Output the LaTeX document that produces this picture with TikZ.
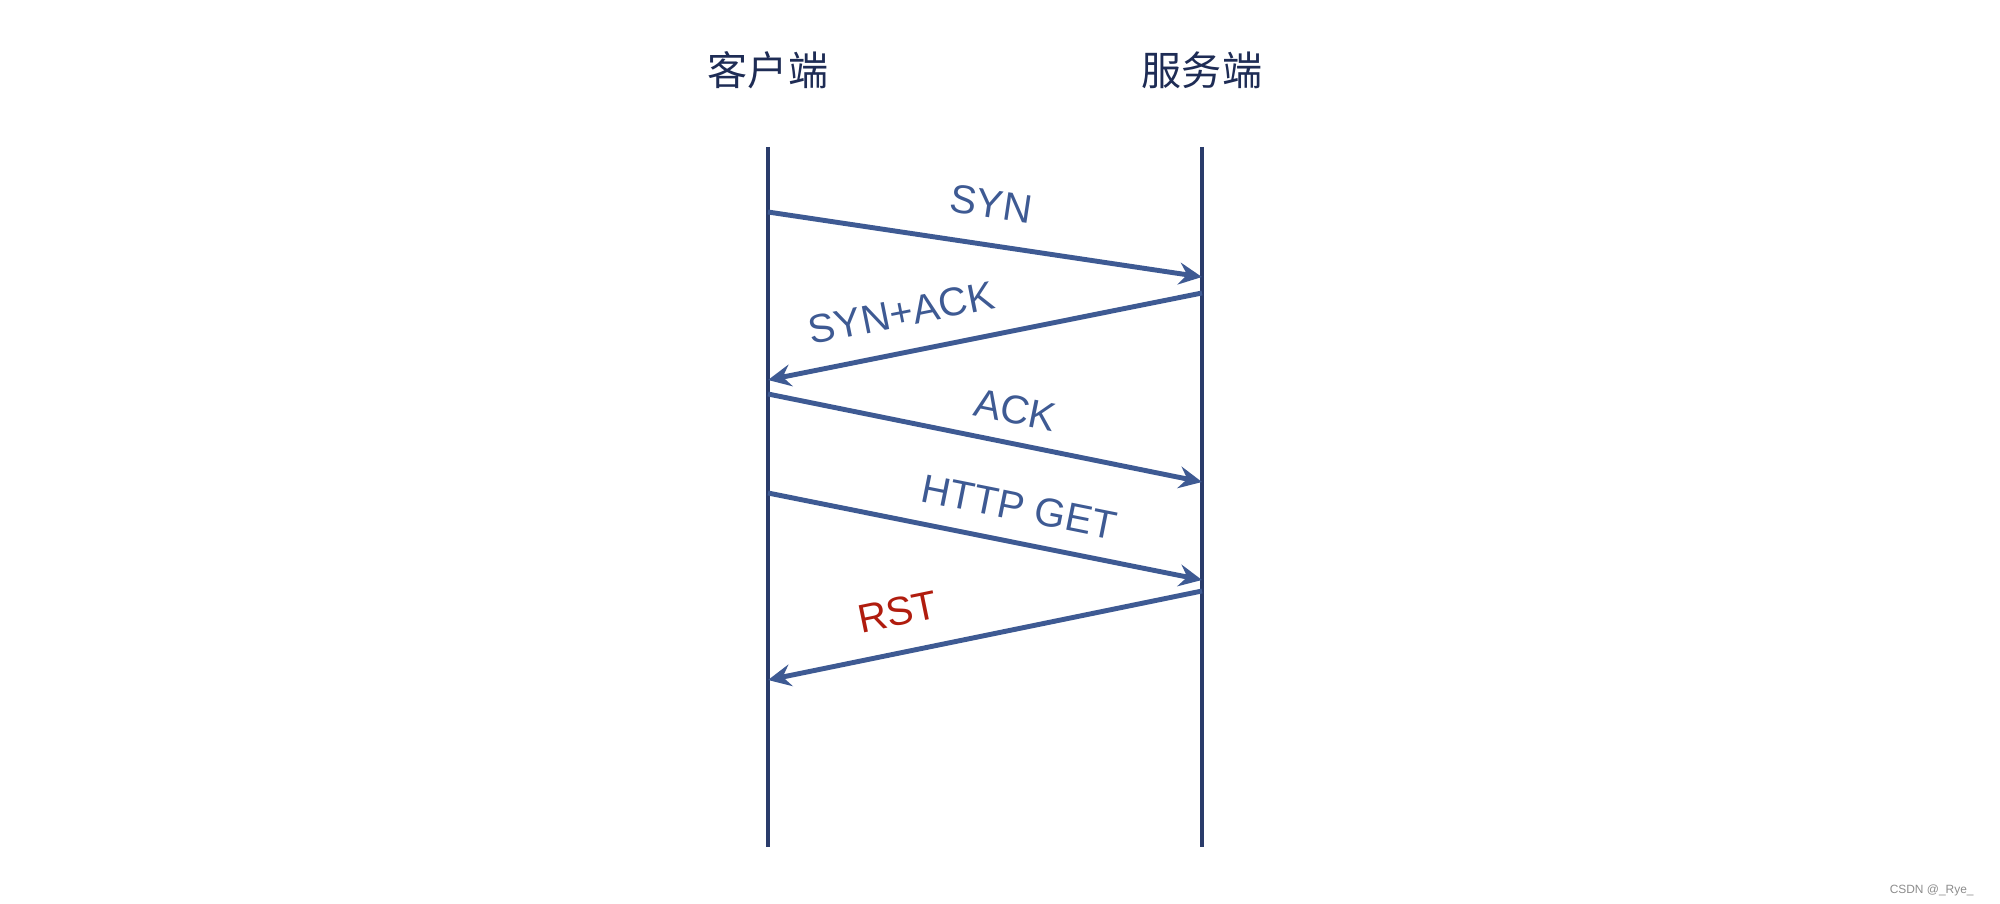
\documentclass[tikz,border=0pt]{standalone}
\usepackage{fontspec}
\setmainfont{Liberation Sans}
\newfontfamily\cjkfont{Noto Sans CJK SC}
\usetikzlibrary{positioning, arrows.meta}
\definecolor{titleNavy}{RGB}{30,44,85}
\definecolor{lineNavy}{RGB}{42,60,107}
\definecolor{msgBlue}{RGB}{62,90,147}
\definecolor{rstRed}{RGB}{176,28,14}
\definecolor{markGray}{RGB}{140,140,140}

\begin{document}
\begin{tikzpicture}[
			lifeline/.style={
				line width=1.2pt,
				lineNavy
			},
			message/.style={
				line width=1.4pt,
				msgBlue,
				-{Stealth[length=2.3mm, width=2.2mm, inset=0.8mm]}
			},
			party/.style={
				font=\cjkfont\fontsize{11.4}{13}\selectfont,
				titleNavy,
				inner sep=0pt
			},
			msglabel/.style={
				font=\fontsize{11.4}{13}\selectfont,
				msgBlue,
				sloped,
				inner sep=0pt
			}
			]
			
			\useasboundingbox (0,0) rectangle (20,-9.04);
			
			% Parties
			\node[party] (client) at (7.68,-0.70) {客户端};
			\node[party] (server) at (12.02,-0.70) {服务端};
			
			% Lifelines
			\coordinate (ctop) at (7.68,-1.47);
			\coordinate (cbot) at (7.68,-8.47);
			\coordinate (stop) at (12.02,-1.47);
			\coordinate (sbot) at (12.02,-8.47);
			\draw[lifeline] (ctop) -- (cbot);
			\draw[lifeline] (stop) -- (sbot);
			
			% Message ends
			\coordinate (c1) at (7.68,-2.12);
			\coordinate (s1) at (12.02,-2.77);
			\coordinate (s2) at (12.02,-2.93);
			\coordinate (c2) at (7.68,-3.80);
			\coordinate (c3) at (7.68,-3.94);
			\coordinate (s3) at (12.02,-4.82);
			\coordinate (c4) at (7.68,-4.93);
			\coordinate (s4) at (12.02,-5.80);
			\coordinate (s5) at (12.02,-5.91);
			\coordinate (c5) at (7.68,-6.80);
			
			% Messages
			\draw[message] (c1) -- node[msglabel, pos=0.5, above=0.24cm] {SYN} (s1);
			\draw[message] (s2) -- node[msglabel, pos=0.675, above=0.23cm] {SYN+ACK} (c2);
			\draw[message] (c3) -- node[msglabel, pos=0.555, above=0.17cm] {ACK} (s3);
			\draw[message] (c4) -- node[msglabel, pos=0.562, above=0.19cm] {HTTP GET} (s4);
			\draw[message] (s5) -- node[msglabel, rstRed, pos=0.682, above=0.24cm] {RST} (c5);
			
			% Watermark
			\node[font=\fontsize{3.4}{4}\selectfont, markGray, anchor=east] (mark) at (19.86,-8.90) {CSDN @\_Rye\_};
			
		\end{tikzpicture}
\end{document}
